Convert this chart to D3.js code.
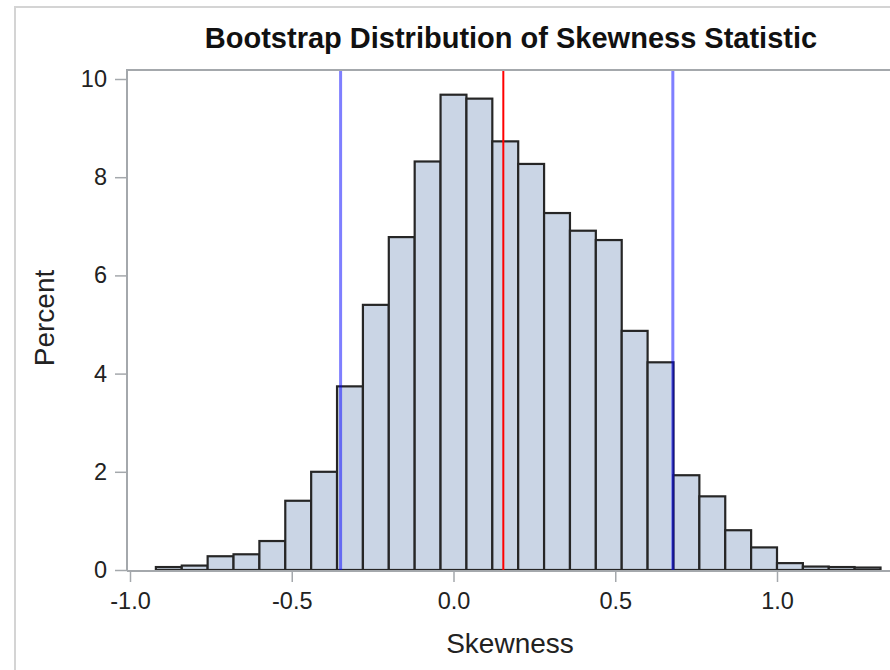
<!DOCTYPE html>
<html lang="en">
<head>
    <meta charset="utf-8">
    <title>Bootstrap Distribution of Skewness Statistic</title>
    <script src="https://cdn.jsdelivr.net/npm/d3@7"></script>
    <style>
        body { margin: 0; background: #fff; }
        text { font-family: "Liberation Sans", Arial, sans-serif; }
    </style>
</head>
<body>
    <div id="chart"></div>
    <script>
        // bin midpoints (width 0.08) and percent per bin
        const binWidth = 0.08;
        const midpoints = [-0.88, -0.80, -0.72, -0.64, -0.56, -0.48, -0.40, -0.32, -0.24, -0.16,
                           -0.08, 0.00, 0.08, 0.16, 0.24, 0.32, 0.40, 0.48, 0.56, 0.64,
                           0.72, 0.80, 0.88, 0.96, 1.04, 1.12, 1.20, 1.28];
        const percents = [0.06, 0.09, 0.28, 0.32, 0.59, 1.41, 2.00, 3.74, 5.40, 6.78,
                          8.32, 9.68, 9.60, 8.73, 8.27, 7.27, 6.91, 6.72, 4.87, 4.23,
                          1.93, 1.50, 0.81, 0.46, 0.14, 0.07, 0.06, 0.05];

        // reference lines: 95% CI bounds and the observed statistic
        const ciLines = [-0.349, 0.678];
        const estimate = 0.154;

        const xTicks = [-1.0, -0.5, 0.0, 0.5, 1.0];
        const xTickLabels = ["-1.0", "-0.5", "0.0", "0.5", "1.0"];
        const yTicks = [0, 2, 4, 6, 8, 10];

        const width = 890, height = 670;
        const plot = { left: 127, top: 70, right: 896, bottom: 570 };

        const svg = d3.select("#chart").append("svg")
            .attr("width", width)
            .attr("height", height);

        // light outer frame of the graph (cut off on the right and bottom)
        svg.append("rect")
            .attr("x", 15).attr("y", 7)
            .attr("width", 900).attr("height", 700)
            .attr("fill", "none")
            .attr("stroke", "#d4d4d4")
            .attr("stroke-width", 2);

        const x = d3.scaleLinear().domain([-1, 1]).range([130, 777]);
        const y = d3.scaleLinear().domain([0, 10]).range([plot.bottom, 79]);

        // bars
        svg.append("g")
            .selectAll("rect")
            .data(midpoints)
            .join("rect")
            .attr("x", d => x(d - binWidth / 2))
            .attr("width", d => x(d + binWidth / 2) - x(d - binWidth / 2))
            .attr("y", (d, i) => y(percents[i]))
            .attr("height", (d, i) => y(0) - y(percents[i]))
            .attr("fill", "#cad5e5")
            .attr("stroke", "#262626")
            .attr("stroke-width", 2.2);

        // reference lines
        svg.append("g")
            .selectAll("line")
            .data(ciLines)
            .join("line")
            .attr("x1", d => x(d)).attr("x2", d => x(d))
            .attr("y1", plot.top).attr("y2", plot.bottom)
            .attr("stroke", "rgba(0,0,255,0.5)")
            .attr("stroke-width", 3);

        svg.append("line")
            .attr("x1", x(estimate)).attr("x2", x(estimate))
            .attr("y1", plot.top).attr("y2", plot.bottom)
            .attr("stroke", "#ff0000")
            .attr("stroke-width", 2);

        // plot frame (top and left) plus axis
        const frameColor = "#a4a8ac";
        svg.append("path")
            .attr("d", `M${plot.right},${plot.top}H${plot.left}V${plot.bottom}`)
            .attr("fill", "none")
            .attr("stroke", frameColor)
            .attr("stroke-width", 2);

        const xAxis = svg.append("g")
            .attr("transform", `translate(0,${plot.bottom + 1})`)
            .call(d3.axisBottom(x)
                .tickValues(xTicks)
                .tickFormat((d, i) => xTickLabels[i])
                .tickSize(11)
                .tickSizeOuter(0)
                .tickPadding(10));
        xAxis.select(".domain")
            .attr("d", `M${plot.left},0H${plot.right}`)
            .attr("stroke", frameColor).attr("stroke-width", 2);

        const yAxis = svg.append("g")
            .attr("transform", `translate(${plot.left},0)`)
            .call(d3.axisLeft(y)
                .tickValues(yTicks)
                .tickSize(12)
                .tickSizeOuter(0)
                .tickPadding(8));
        yAxis.select(".domain").remove();

        svg.selectAll(".tick line").attr("stroke", frameColor).attr("stroke-width", 1.5);
        svg.selectAll(".tick text")
            .attr("fill", "#222")
            .style("font-family", "'Liberation Sans', Arial, sans-serif")
            .style("font-size", "23.5px");

        // title and axis labels
        svg.append("text")
            .attr("x", 511).attr("y", 48)
            .attr("text-anchor", "middle")
            .attr("font-weight", "bold")
            .attr("font-size", 29)
            .attr("fill", "#111")
            .text("Bootstrap Distribution of Skewness Statistic");

        svg.append("text")
            .attr("x", 510).attr("y", 653)
            .attr("text-anchor", "middle")
            .attr("font-size", 28)
            .attr("fill", "#222")
            .text("Skewness");

        svg.append("text")
            .attr("transform", "translate(54,318) rotate(-90)")
            .attr("text-anchor", "middle")
            .attr("font-size", 28)
            .attr("fill", "#222")
            .text("Percent");
    </script>
</body>
</html>
